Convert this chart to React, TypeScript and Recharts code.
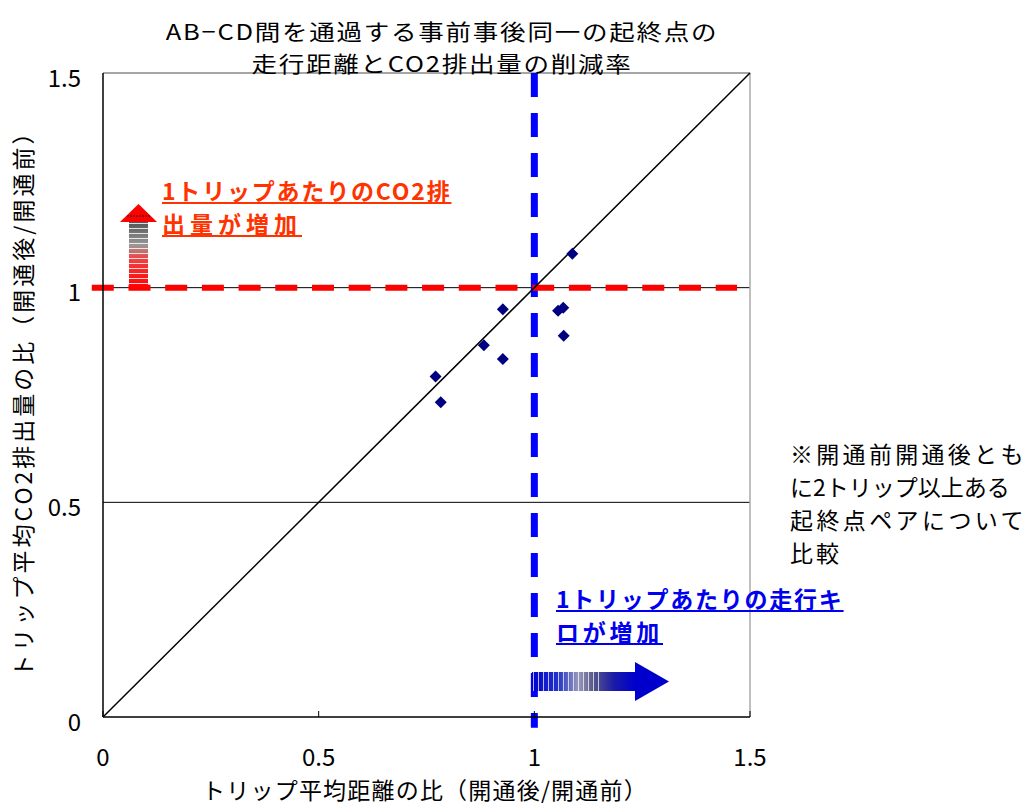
import React from 'react';
import { ScatterChart, Scatter, XAxis, YAxis, ReferenceLine } from 'recharts';

// ---- data ----
const distanceRatio = [0.771, 0.783, 0.883, 0.927, 0.927, 1.055, 1.067, 1.068, 1.088];
const co2Ratio = [0.793, 0.733, 0.866, 0.95, 0.834, 0.946, 0.953, 0.888, 1.079];
const xTicks = [0, 0.5, 1, 1.5];
const yTicks = [0, 0.5, 1, 1.5];
const diagonalEnds = [0, 1.5];
const titleLines = ['AB−CD間を通過する事前事後同一の起終点の', '走行距離とCO2排出量の削減率'];
const xAxisTitle = 'トリップ平均距離の比（開通後/開通前）';
const yAxisTitle = 'トリップ平均CO2排出量の比（開通後/開通前）';
const redNoteLines = ['1トリップあたりのCO2排', '出量が増加'];
const blueNoteLines = ['1トリップあたりの走行キ', 'ロが増加'];
const footNoteLines = ['※開通前開通後とも', 'に2トリップ以上ある', '起終点ペアについて', '比較'];

const points = distanceRatio.map((x, i) => ({ x, y: co2Ratio[i] }));

const W = 1032;
const H = 805;
const M = { top: 73, right: 282, bottom: 0, left: 0 };
const Y_AXIS_W = 103;
const X_AXIS_H = 88;
const PLOT_BOTTOM = H - X_AXIS_H;
const FONT = "'Noto Sans CJK JP', 'Noto Sans', sans-serif";

const Diamond = (props: any) => {
  const { cx, cy } = props;
  const r = 6;
  return <polygon points={`${cx},${cy - r} ${cx + r},${cy} ${cx},${cy + r} ${cx - r},${cy}`} fill="#000080" />;
};

const XTick = (props: any) => {
  const { x, y, payload } = props;
  return (
    <g>
      <line x1={x} x2={x} y1={PLOT_BOTTOM} y2={PLOT_BOTTOM - 6} stroke="#000" strokeWidth={1} />
      <text x={x} y={y + 47} textAnchor="middle" fontSize={24} fontFamily={FONT} fill="#000">
        {String(payload.value)}
      </text>
    </g>
  );
};

const YTick = (props: any) => {
  const { x, y, payload } = props;
  return (
    <text x={x - 20} y={y + 3} textAnchor="end" dominantBaseline="central" fontSize={24} fontFamily={FONT} fill="#000">
      {String(payload.value)}
    </text>
  );
};

const lineDiv = (text: string, top: number, left: number, opts: any) => (
  <div
    key={text}
    style={{
      position: 'absolute',
      top,
      left,
      whiteSpace: 'nowrap',
      fontFamily: FONT,
      lineHeight: '33px',
      ...opts,
    }}
  >
    {text}
  </div>
);

export default function App() {
  return (
    <div style={{ position: 'absolute', left: 0, top: 0, width: W, height: H, background: '#fff', overflow: 'hidden' }}>
      <ScatterChart width={W} height={H} margin={M}>
        <XAxis
          type="number"
          dataKey="x"
          domain={[0, 1.5]}
          ticks={xTicks}
          allowDataOverflow
          height={X_AXIS_H}
          tickSize={0}
          tickLine={false}
          axisLine={{ stroke: '#000', strokeWidth: 1.5 }}
          tick={<XTick />}
          interval={0}
        />
        <YAxis
          type="number"
          dataKey="y"
          domain={[0, 1.5]}
          ticks={yTicks}
          allowDataOverflow
          width={Y_AXIS_W}
          tickSize={0}
          tickLine={false}
          axisLine={{ stroke: '#000', strokeWidth: 1.5 }}
          tick={<YTick />}
          interval={0}
        />
        <ReferenceLine y={0.5} stroke="#000" strokeWidth={1} />
        <ReferenceLine y={1} stroke="#000" strokeWidth={1} />
        <ReferenceLine y={1.5} stroke="#888" strokeWidth={1.5} />
        <ReferenceLine x={1.5} stroke="#aaa" strokeWidth={1.5} />
        <ReferenceLine
          segment={[{ x: 1, y: 1.5 }, { x: 1, y: -0.025 }]}
          ifOverflow="visible"
          stroke="#0000FF"
          strokeWidth={7}
          strokeDasharray="24 16"
        />
        <ReferenceLine
          segment={[{ x: -0.026, y: 1 }, { x: 1.47, y: 1 }]}
          ifOverflow="visible"
          stroke="#FF0000"
          strokeWidth={6}
          strokeDasharray="22 14.7"
        />
        <ReferenceLine
          segment={[{ x: diagonalEnds[0], y: diagonalEnds[0] }, { x: diagonalEnds[1], y: diagonalEnds[1] }]}
          ifOverflow="visible"
          stroke="#000"
          strokeWidth={1.5}
        />
        <Scatter data={points} shape={<Diamond />} isAnimationActive={false} />
      </ScatterChart>

      {/* arrows */}
      <svg width={W} height={H} style={{ position: 'absolute', left: 0, top: 0, pointerEvents: 'none' }}>
        <defs>
          <linearGradient id="redShaft" x1="0" y1="0" x2="0" y2="1">
            <stop offset="0%" stopColor="#555" />
            <stop offset="35%" stopColor="#999" />
            <stop offset="55%" stopColor="#e44" />
            <stop offset="100%" stopColor="#f00" />
          </linearGradient>
          <linearGradient id="blueShaft" x1="0" y1="0" x2="1" y2="0">
            <stop offset="0%" stopColor="#0000cc" />
            <stop offset="25%" stopColor="#2233cc" />
            <stop offset="45%" stopColor="#9999bb" />
            <stop offset="60%" stopColor="#555588" />
            <stop offset="80%" stopColor="#1a1aaa" />
            <stop offset="100%" stopColor="#0000cc" />
          </linearGradient>
          <pattern id="hStripes" width="4" height="5" patternUnits="userSpaceOnUse">
            <rect width="4" height="1" y="3" fill="#fff" opacity="0.8" />
          </pattern>
          <pattern id="vStripes" width="5" height="4" patternUnits="userSpaceOnUse">
            <rect width="1" height="4" x="3" fill="#fff" opacity="0.7" />
          </pattern>
        </defs>
        <polygon points="120,222 157,222 138.5,204" fill="#f00" />
        <line x1="127" x2="150" y1="216" y2="216" stroke="#222" strokeDasharray="2 1" />
        <rect x={129} y={222} width={19} height={66} fill="url(#redShaft)" />
        <rect x={129} y={222} width={19} height={66} fill="url(#hStripes)" />
        <rect x={532} y={672} width={103} height={19} fill="url(#blueShaft)" />
        <rect x={532} y={672} width={70} height={19} fill="url(#vStripes)" />
        <polygon points="635,662 635,701 669,681.5" fill="#0000cc" />
      </svg>

      {/* title */}
      {titleLines.map((t, i) => (
        <div
          key={t}
          style={{
            position: 'absolute',
            top: 14 + i * 32,
            left: 442 - 400,
            width: 800,
            height: 32,
            textAlign: 'center',
            whiteSpace: 'nowrap',
            fontFamily: FONT,
            fontSize: 22,
            lineHeight: '32px',
            letterSpacing: 1.5,
            color: '#000',
            transform: 'scaleX(1.16)',
            transformOrigin: '400px 16px',
          }}
        >
          {t}
        </div>
      ))}

      {/* axis titles */}
      <div
        style={{
          position: 'absolute',
          top: 775,
          left: 425 - 400,
          width: 800,
          height: 28,
          textAlign: 'center',
          whiteSpace: 'nowrap',
          fontFamily: FONT,
          fontSize: 23,
          lineHeight: '28px',
          letterSpacing: 1.2,
          color: '#000',
        }}
      >
        {xAxisTitle}
      </div>
      <div
        style={{
          position: 'absolute',
          top: 398 - 15,
          left: 22 - 400,
          width: 800,
          height: 30,
          textAlign: 'center',
          whiteSpace: 'nowrap',
          fontFamily: FONT,
          fontSize: 23,
          lineHeight: '30px',
          letterSpacing: 3,
          color: '#000',
          transform: 'rotate(-90deg)',
          transformOrigin: '400px 15px',
        }}
      >
        {yAxisTitle}
      </div>

      {/* annotations */}
      {redNoteLines.map((t, i) =>
        lineDiv(t, 173.5 + i * 33, 162, {
          fontSize: 23,
          fontWeight: 'bold',
          color: '#FF3300',
          textDecoration: 'underline',
          letterSpacing: i === 0 ? 1.8 : 5,
        })
      )}
      {blueNoteLines.map((t, i) =>
        lineDiv(t, 581.5 + i * 33, 556, {
          fontSize: 23,
          fontWeight: 'bold',
          color: '#0000EE',
          textDecoration: 'underline',
          letterSpacing: i === 0 ? 1.75 : 3.75,
        })
      )}
      {footNoteLines.map((t, i) =>
        lineDiv(t, 436.5 + i * 33, 790, {
          fontSize: 23,
          color: '#000',
          letterSpacing: [3.3, 0, 3.4, 3][i],
        })
      )}
    </div>
  );
}
